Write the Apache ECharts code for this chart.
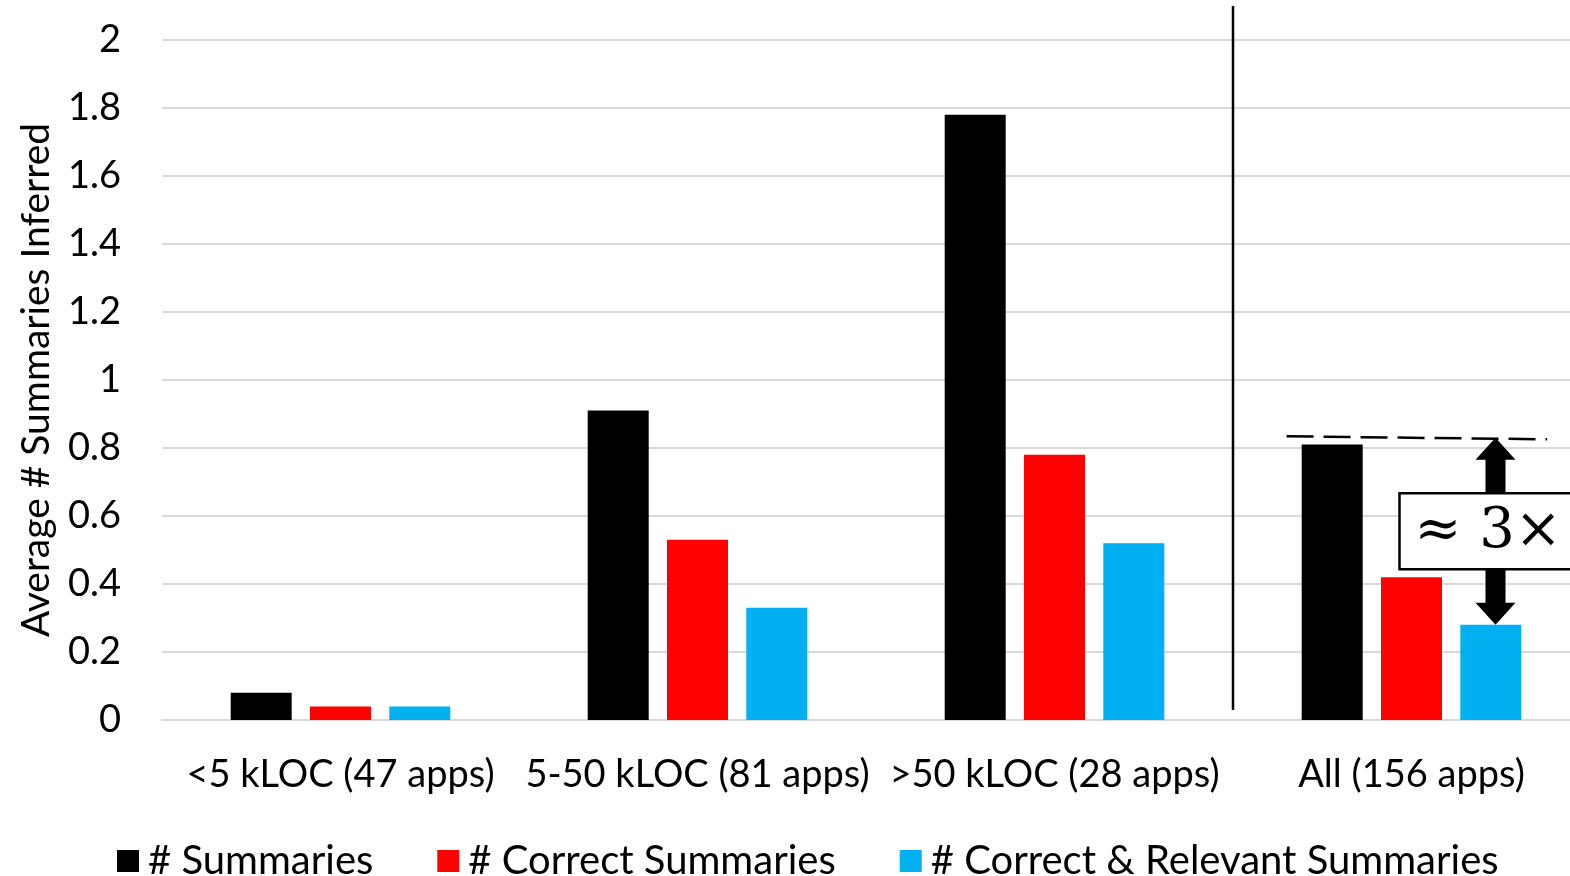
<!DOCTYPE html>
<html>
<head>
<meta charset="utf-8">
<script src="https://cdn.jsdelivr.net/npm/echarts@6/dist/echarts.min.js"></script>
<style>
  html, body { margin: 0; padding: 0; background: #fff; }
  #chart { width: 1570px; height: 876px; }
</style>
</head>
<body>
<div id="chart"></div>
<script>
// Average number of inferred summaries per app, by app size
const categories = ['<5 kLOC (47 apps)', '5-50 kLOC (81 apps)', '>50 kLOC (28 apps)', 'All (156 apps)'];
const seriesNames = ['# Summaries', '# Correct Summaries', '# Correct & Relevant Summaries'];
const summaries = [0.08, 0.91, 1.78, 0.81];
const correctSummaries = [0.04, 0.53, 0.78, 0.42];
const relevantSummaries = [0.04, 0.33, 0.52, 0.28];
const yMin = 0, yMax = 2, yStep = 0.2;
// Reference level for the "All" group comparison and the box label
const allLevel = 0.83;
const ratioLabel = '≈ 3×';

const FONT = 'Lato, "Open Sans", sans-serif';
const colors = ['#000000', '#ff0000', '#00b0f0'];

const chart = echarts.init(document.getElementById('chart'));

const mkBar = (name, data, color) => ({
  name, type: 'bar', data,
  barWidth: 61, barGap: '30%',
  itemStyle: { color },
  emphasis: { disabled: true }
});

chart.setOption({
  animation: false,
  color: colors,
  grid: { left: 162, top: 40, width: 1428, height: 680, containLabel: false, outerBoundsMode: 'none' },
  legend: {
    left: 112, top: 836,
    icon: 'rect', itemWidth: 22, itemHeight: 22, itemGap: 64,
    textStyle: { fontFamily: FONT, fontSize: 40, color: '#000', padding: [0, 0, 0, 4] },
    data: seriesNames
  },
  xAxis: {
    type: 'category', data: categories,
    axisLine: { lineStyle: { color: '#d9d9d9', width: 2 } },
    axisTick: { show: false },
    axisLabel: { fontFamily: FONT, fontSize: 38, color: '#000', margin: 36, interval: 0 }
  },
  yAxis: {
    type: 'value', min: yMin, max: yMax, interval: yStep,
    name: 'Average # Summaries Inferred',
    nameLocation: 'middle', nameGap: 106, nameRotate: 90,
    nameTextStyle: { fontFamily: FONT, fontSize: 39, color: '#000' },
    axisLine: { show: false }, axisTick: { show: false },
    axisLabel: { fontFamily: FONT, fontSize: 38, color: '#000', margin: 41 },
    splitLine: { lineStyle: { color: '#d9d9d9', width: 2 } }
  },
  series: [
    mkBar(seriesNames[0], summaries, colors[0]),
    mkBar(seriesNames[1], correctSummaries, colors[1]),
    mkBar(seriesNames[2], relevantSummaries, colors[2])
  ]
});

// Annotations placed from the axis scales
const px = (cat, val) => chart.convertToPixel({ gridIndex: 0 }, [cat, val]);
const basePt = px(0, 0);
const topPt = px(0, yMax);
const c2 = px(2, 0), c3 = px(3, 0);
const sepX = (c2[0] + c3[0]) / 2;
const band = c3[0] - c2[0];
const allX = c3[0];
const levelY = px(3, allLevel)[1];
const blueTopY = px(3, relevantSummaries[3])[1];
const arrowX = allX + 84;
const shaftW = 20, headW = 40, headL = 22;

const arrowPts = [
  [arrowX, levelY],
  [arrowX + headW / 2, levelY + headL],
  [arrowX + shaftW / 2, levelY + headL],
  [arrowX + shaftW / 2, blueTopY - headL],
  [arrowX + headW / 2, blueTopY - headL],
  [arrowX, blueTopY],
  [arrowX - headW / 2, blueTopY - headL],
  [arrowX - shaftW / 2, blueTopY - headL],
  [arrowX - shaftW / 2, levelY + headL],
  [arrowX - headW / 2, levelY + headL]
];

const boxY = (levelY + blueTopY) / 2 - 38;

chart.setOption({
  graphic: [
    { type: 'line', shape: { x1: sepX, y1: topPt[1] - 34, x2: sepX, y2: basePt[1] - 10 },
      style: { stroke: '#000', lineWidth: 2.5 }, z: 10 },
    { type: 'line', shape: { x1: allX - band * 0.35, y1: levelY - 1.5, x2: allX + band * 0.38, y2: levelY + 1.5 },
      style: { stroke: '#000', lineWidth: 2.5, lineDash: [27, 10] }, z: 10 },
    { type: 'polygon', shape: { points: arrowPts }, style: { fill: '#000' }, z: 10 },
    { type: 'rect', shape: { x: arrowX - 96, y: boxY, width: 200, height: 76 },
      style: { fill: '#fff', stroke: '#000', lineWidth: 2.5 }, z: 11 },
    { type: 'text', x: arrowX - 81, y: boxY + 39, z: 12,
      style: { text: ratioLabel, font: '56px "DejaVu Serif", "Liberation Serif", serif',
               fill: '#000', verticalAlign: 'middle', align: 'left' } }
  ]
});
</script>
</body>
</html>
